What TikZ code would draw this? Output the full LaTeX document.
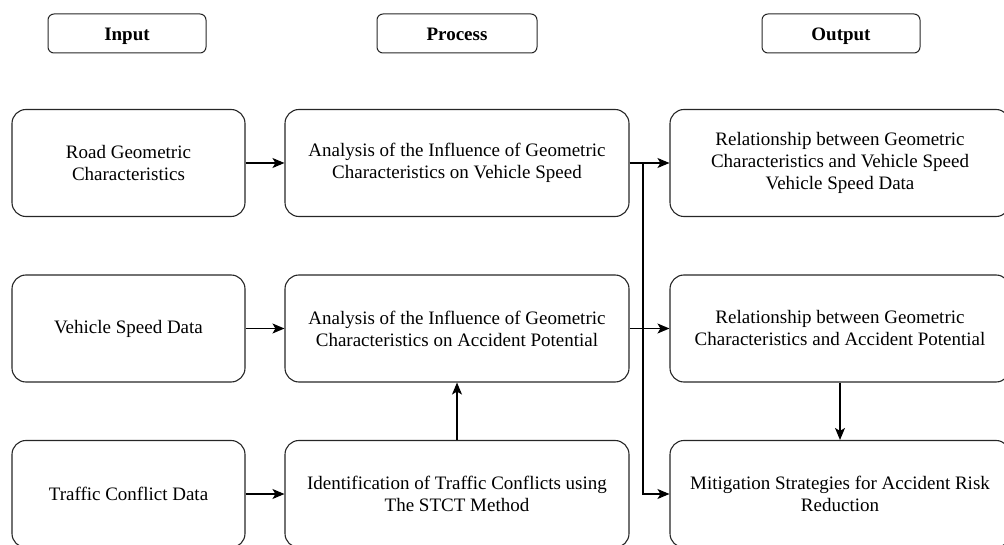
\documentclass[tikz,border=0pt]{standalone}
\usepackage{fontspec}
\setmainfont{Liberation Serif}
\usetikzlibrary{arrows.meta}
\tikzset{
    headbox/.style={draw=black!85, line width=1pt, rounded corners=6pt, minimum width=158pt, minimum height=39pt, text height=17pt, text depth=2pt, font=\fontsize{19}{22}\selectfont\bfseries},
    colbox/.style={draw=black!85, line width=1.1pt, rounded corners=14pt, minimum height=107pt, align=center, font=\fontsize{19}{22}\selectfont},
    arr/.style={-{Stealth[length=12pt,width=10pt,inset=3pt]}, line width=1.1pt}
}
\begin{document}
\begin{tikzpicture}[x=1pt,y=-1pt]
        \useasboundingbox (0,0) rectangle (1004,545);
        % Titoli
        \node[headbox] (input) at (127,33.5) {Input};
        \node[headbox, minimum width=160pt] (process) at (457,33.5) {Process};
        \node[headbox] (output) at (841,33.5) {Output};
        % Input
        \node[colbox, minimum width=233pt] (geom) at (128.5,163) {Road Geometric\\Characteristics};
        \node[colbox, minimum width=233pt] (speed) at (128.5,328.5) {Vehicle Speed Data};
        \node[colbox, minimum width=233pt] (conflict) at (128.5,494) {Traffic Conflict Data};
        % Process
        \node[colbox, minimum width=344pt] (anspeed) at (457,163) {Analysis of the Influence of Geometric\\Characteristics on Vehicle Speed};
        \node[colbox, minimum width=344pt] (anacc) at (457,328.5) {Analysis of the Influence of Geometric\\Characteristics on Accident Potential};
        \node[colbox, minimum width=344pt] (stct) at (457,494) {Identification of Traffic Conflicts using\\The STCT Method};
        % Output
        \node[colbox, minimum width=340pt] (relspeed) at (840,163) {Relationship between Geometric\\Characteristics and Vehicle Speed\\Vehicle Speed Data};
        \node[colbox, minimum width=340pt] (relacc) at (840,328.5) {Relationship between Geometric\\Characteristics and Accident Potential};
        \node[colbox, minimum width=340pt] (mitig) at (840,494) {Mitigation Strategies for Accident Risk\\Reduction};
        % Frecce
        \draw[arr] (geom) -- (anspeed);
        \draw[arr] (speed) -- (anacc);
        \draw[arr] (conflict) -- (stct);
        \draw[arr] (stct) -- (anacc);
        \draw[arr] (anspeed) -- (relspeed);
        \draw[arr] (anacc) -- (relacc);
        \draw[arr] (relacc) -- (mitig);
        \coordinate (split) at (643,163);
        \draw[arr] (split) |- (mitig.west);
\end{tikzpicture}
\end{document}
